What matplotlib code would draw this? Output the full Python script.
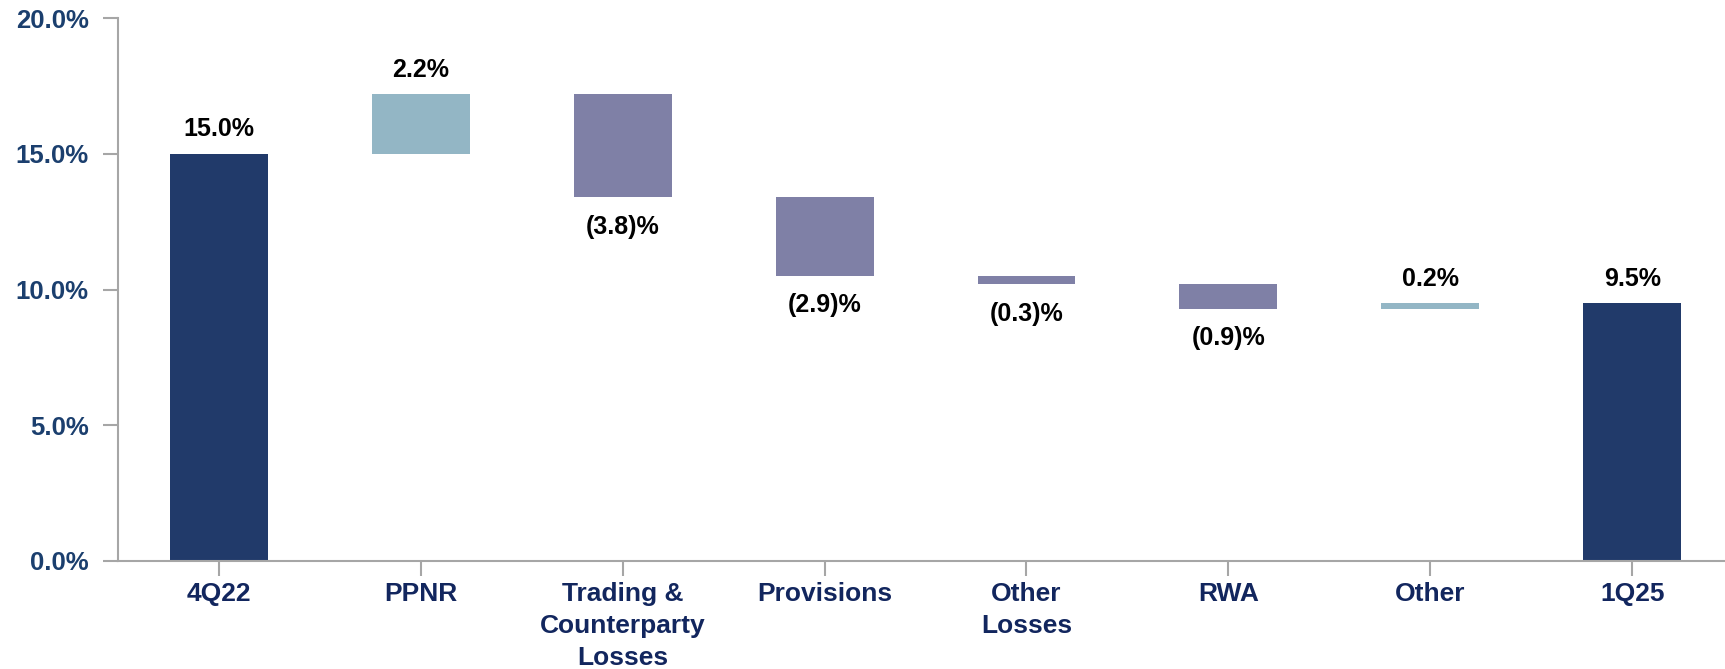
import matplotlib
matplotlib.use('Agg')
import matplotlib.pyplot as plt
import numpy as np

plt.rcParams['font.family'] = ['Liberation Sans', 'DejaVu Sans']
plt.rcParams['font.weight'] = 'bold'

# ── data ─────────────────────────────────────────────────────────────────────
categories = ['4Q22', 'PPNR', 'Trading &\nCounterparty\nLosses', 'Provisions',
              'Other\nLosses', 'RWA', 'Other', '1Q25']
changes = [15.0, 2.2, -3.8, -2.9, -0.3, -0.9, 0.2, 9.5]
kinds = ['total', 'step', 'step', 'step', 'step', 'step', 'step', 'total']
labels = ['15.0%', '2.2%', '(3.8)%', '(2.9)%', '(0.3)%', '(0.9)%', '0.2%', '9.5%']
yticks = [0, 5, 10, 15, 20]

NAVY = '#213A6A'
UP = '#93B6C5'
DOWN = '#7F80A6'
AXIS_GREY = '#A6A6A6'

# waterfall bottoms/heights
bottoms, heights, colors = [], [], []
running = 0.0
for v, k in zip(changes, kinds):
    if k == 'total':
        bottoms.append(0.0)
        heights.append(v)
        colors.append(NAVY)
        running = v
    else:
        bottoms.append(running if v >= 0 else running + v)
        heights.append(abs(v))
        colors.append(UP if v >= 0 else DOWN)
        running += v

fig = plt.figure(figsize=(17.25, 6.69), dpi=100)
ax = fig.add_axes([118 / 1725, 108 / 669, 1 - 118 / 1725, (561 - 18.3) / 669])

x = np.arange(len(categories))
ax.bar(x, heights, bottom=bottoms, width=0.485, color=colors, zorder=2)

for xi, v, k, b, h, lab in zip(x, changes, kinds, bottoms, heights, labels):
    if k == 'total' or v >= 0:
        ax.annotate(lab, (xi, b + h), xytext=(0, 9), textcoords='offset points',
                    ha='center', va='bottom', fontsize=18, fontweight='bold', color='black')
    else:
        ax.annotate(lab, (xi, b), xytext=(0, -12.5), textcoords='offset points',
                    ha='center', va='top', fontsize=18, fontweight='bold', color='black')

ax.set_xlim(-0.5, 7.46)
ax.set_ylim(0, 20)
ax.set_yticks(yticks)
ax.set_yticklabels([f'{t:.1f}%' for t in yticks])
ax.set_xticks(x)
ax.set_xticklabels(categories, linespacing=1.42)

for side in ('top', 'right'):
    ax.spines[side].set_visible(False)
for side in ('left', 'bottom'):
    ax.spines[side].set_color(AXIS_GREY)
    ax.spines[side].set_linewidth(1.5)

ax.tick_params(axis='y', direction='out', length=11, width=1.5, color=AXIS_GREY,
               labelsize=18.5, labelcolor='#1B3F6E', pad=10)
ax.tick_params(axis='x', direction='out', length=11, width=1.5, color=AXIS_GREY,
               labelsize=19, labelcolor='#12265E', pad=4)
for t in ax.get_yticklabels() + ax.get_xticklabels():
    t.set_fontweight('bold')

fig.savefig('out.png', dpi=100)
